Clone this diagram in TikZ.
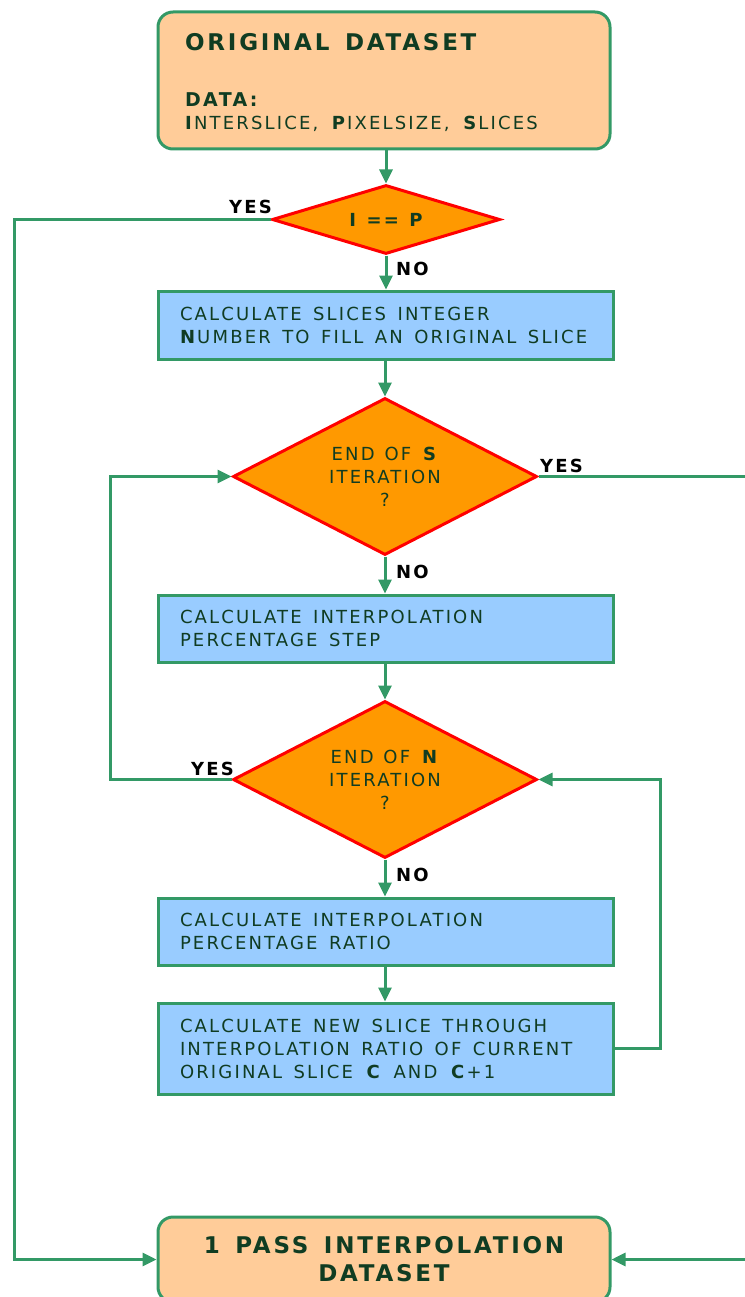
\documentclass[tikz,border=0pt]{standalone}
\usepackage{fontspec}
\setmainfont{DejaVu Sans}[LetterSpace=12,WordSpace=1.45]
\newfontfamily\diafont{DejaVu Sans}[LetterSpace=12,WordSpace=1.25]
\usetikzlibrary{shapes.geometric,arrows.meta}
\definecolor{lgreen}{HTML}{339966}
\definecolor{peach}{HTML}{FFCC99}
\definecolor{pblue}{HTML}{99CCFF}
\definecolor{orng}{HTML}{FF9900}
\definecolor{rred}{HTML}{FF0000}
\definecolor{tdark}{HTML}{103C22}
\newcommand{\bodyfont}{\fontsize{18}{23}\selectfont}
\newcommand{\lblfont}{\fontsize{18}{20}\selectfont\bfseries}
\tikzset{
  proc/.style={draw=lgreen, line width=3pt, fill=pblue, minimum width=455pt, text width=411pt, inner xsep=22pt, inner ysep=0pt, align=left, font=\bodyfont, text=tdark, execute at begin node={\spaceskip=11.5pt\relax}},
  term/.style={draw=lgreen, line width=3pt, fill=peach, rounded corners=15pt, minimum width=452pt},
  dec/.style={diamond, draw=rred, line width=3pt, fill=orng, inner sep=0pt},
  dectext/.style={align=center, font=\diafont\bodyfont, text=tdark, inner sep=0pt},
  lbl/.style={font=\lblfont, text=black, inner sep=0pt},
  arr/.style={draw=lgreen, line width=3pt, -{Triangle[length=14pt,width=13pt]}},
  ln/.style={draw=lgreen, line width=3pt}
}
\begin{document}
\begin{tikzpicture}[x=1pt,y=-1pt]
\useasboundingbox (0,0) rectangle (744,1297);
% start box
\node[term, minimum height=137pt] (orig) at (384,80.5) {};
\node[anchor=base west, inner sep=0pt, font=\fontsize{23}{26}\selectfont\bfseries, text=tdark] (origt) at (185,51) {ORIGINAL DATASET};
\node[anchor=base west, inner sep=0pt, font=\fontsize{19}{22}\selectfont\bfseries, text=tdark] (datat) at (185,107) {DATA:};
\node[anchor=base west, inner sep=0pt, font=\bodyfont, text=tdark] (datav) at (185,130) {\textbf{I}NTERSLICE, \textbf{P}IXELSIZE, \textbf{S}LICES};
% decision 1
\node[dec, minimum width=228pt, minimum height=69pt] (d1) at (386,219.5) {};
\node[dectext, font=\diafont\bodyfont\bfseries] (d1t) at (d1) {I == P};
% box 2
\node[proc, minimum height=68pt] (b2) at (385.5,325) {CALCULATE SLICES INTEGER\\\textbf{N}UMBER TO FILL AN ORIGINAL SLICE};
% decision 2
\node[dec, minimum width=304pt, minimum height=157pt] (d2) at (385,476.5) {};
\node[dectext] (d2t) at (d2) {END OF \textbf{S}\\ITERATION\\?};
% box 3
\node[proc, minimum height=67pt] (b3) at (385.5,628.5) {CALCULATE INTERPOLATION\\PERCENTAGE STEP};
% decision 3
\node[dec, minimum width=304pt, minimum height=157pt] (d3) at (385,779.5) {};
\node[dectext] (d3t) at (d3) {END OF \textbf{N}\\ITERATION\\?};
% box 4
\node[proc, minimum height=67pt] (b4) at (385.5,931.5) {CALCULATE INTERPOLATION\\PERCENTAGE RATIO};
% box 5
\node[proc, minimum height=91pt] (b5) at (385.5,1048.5) {CALCULATE NEW SLICE THROUGH\\INTERPOLATION RATIO OF CURRENT\\ORIGINAL SLICE \textbf{C} AND \textbf{C}+1};
% final
\node[term, minimum height=85pt, align=center, font=\fontsize{23}{28}\selectfont\bfseries, text=tdark] (fin) at (384,1259.5) {1 PASS INTERPOLATION\\DATASET};
% labels
\node[lbl, anchor=base east] (y1) at (272,214) {YES};
\node[lbl, anchor=base west] (n1) at (396,275) {NO};
\node[lbl, anchor=base west] (y2) at (540,472) {YES};
\node[lbl, anchor=base west] (n2) at (396,578) {NO};
\node[lbl, anchor=base east] (y3) at (234,775) {YES};
\node[lbl, anchor=base west] (n3) at (396,881) {NO};
% coordinates
\coordinate (lx1) at (14,219.5);
\coordinate (rx1) at (770,476.5);
\coordinate (lx2) at (110,779.5);
\coordinate (rx2) at (660,1048.5);
% vertical flow
\draw[arr] (d1.north |- orig.south) -- (d1.north);
\draw[arr] (d1.south) -- (d1.south |- b2.north);
\draw[arr] (d2.north |- b2.south) -- (d2.north);
\draw[arr] (d2.south) -- (d2.south |- b3.north);
\draw[arr] (d3.north |- b3.south) -- (d3.north);
\draw[arr] (d3.south) -- (d3.south |- b4.north);
\draw[arr] (d3.south |- b4.south) -- (d3.south |- b5.north);
% loops
\draw[arr] (d1.west) -- (lx1) |- (fin.west);
\draw[arr] (d2.east) -- (rx1) |- (fin.east);
\draw[arr] (d3.west) -- (lx2) |- (d2.west);
\draw[arr] (b5.east) -- (rx2) |- (d3.east);
\end{tikzpicture}
\end{document}
